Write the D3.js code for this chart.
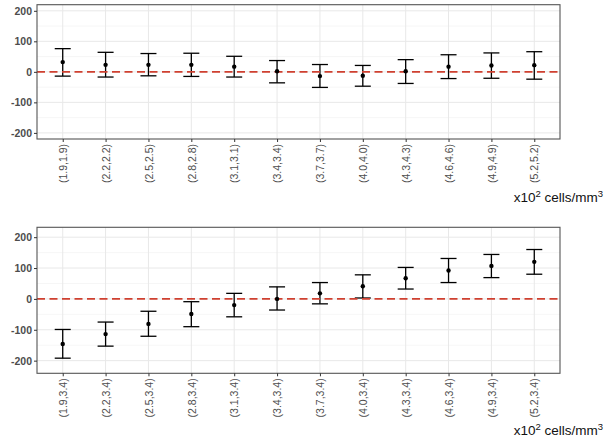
<!DOCTYPE html>
<html><head><meta charset="utf-8">
<script src="https://cdn.jsdelivr.net/npm/d3@7"></script>
<style>body{margin:0;background:#fff}svg{display:block}</style>
</head><body>
<script>
const topCats = ["(1.9,1.9)","(2.2,2.2)","(2.5,2.5)","(2.8,2.8)","(3.1,3.1)","(3.4,3.4)","(3.7,3.7)","(4.0,4.0)","(4.3,4.3)","(4.6,4.6)","(4.9,4.9)","(5.2,5.2)"];
const topMid = [32, 23, 23, 23, 17, 2, -14, -13, 2, 17, 21, 22];
const topLow = [-14, -17, -13, -15, -17, -36, -51, -47, -38, -22, -21, -24];
const topHigh = [76, 64, 60, 61, 51, 37, 24, 21, 40, 56, 62, 66];

const botCats = ["(1.9,3.4)","(2.2,3.4)","(2.5,3.4)","(2.8,3.4)","(3.1,3.4)","(3.4,3.4)","(3.7,3.4)","(4.0,3.4)","(4.3,3.4)","(4.6,3.4)","(4.9,3.4)","(5.2,3.4)"];
const botMid = [-146, -114, -81, -49, -20, 0, 18, 41, 67, 92, 107, 120];
const botLow = [-192, -153, -121, -90, -58, -36, -16, 3, 32, 53, 69, 80];
const botHigh = [-99, -75, -40, -9, 18, 39, 53, 78, 102, 131, 144, 160];

const yTicks = [-200, -100, 0, 100, 200];
const yTickLabels = ["-200", "-100", "0", "100", "200"];
const yMinor = [-250, -150, -50, 50, 150, 250];

const W = 614, H = 442;
const svg = d3.select("body").append("svg").attr("width", W).attr("height", H);
const FONT = "Liberation Sans, Arial, Helvetica, sans-serif";

function panel(cats, mid, low, high, y0, y1, domain, unitY) {
  const x0 = 37, x1 = 560;
  const x = d3.scalePoint().domain(cats).range([x0, x1]).padding(0.6);
  const y = d3.scaleLinear().domain(domain).range([y1, y0]);
  const g = svg.append("g");
  g.selectAll(".mn").data(yMinor.filter(v => v > domain[0] && v < domain[1])).enter().append("line")
    .attr("x1", x0).attr("x2", x1).attr("y1", d => y(d)).attr("y2", d => y(d))
    .attr("stroke", "#f2f2f2").attr("stroke-width", 0.7);
  g.selectAll(".mj").data(yTicks).enter().append("line")
    .attr("x1", x0).attr("x2", x1).attr("y1", d => y(d)).attr("y2", d => y(d))
    .attr("stroke", "#e8e8e8").attr("stroke-width", 1);
  g.selectAll(".vg").data(cats).enter().append("line")
    .attr("x1", d => x(d)).attr("x2", d => x(d)).attr("y1", y0).attr("y2", y1)
    .attr("stroke", "#e8e8e8").attr("stroke-width", 1);
  const capW = 8;
  cats.forEach((c, i) => {
    const cx = x(c);
    g.append("line").attr("x1", cx).attr("x2", cx).attr("y1", y(low[i])).attr("y2", y(high[i]))
      .attr("stroke", "#000").attr("stroke-width", 1.3);
    g.append("line").attr("x1", cx - capW).attr("x2", cx + capW).attr("y1", y(low[i])).attr("y2", y(low[i]))
      .attr("stroke", "#000").attr("stroke-width", 1.3);
    g.append("line").attr("x1", cx - capW).attr("x2", cx + capW).attr("y1", y(high[i])).attr("y2", y(high[i]))
      .attr("stroke", "#000").attr("stroke-width", 1.3);
  });
  g.append("line").attr("x1", x0).attr("x2", x1).attr("y1", y(0)).attr("y2", y(0))
    .attr("stroke", "#cf4030").attr("stroke-width", 1.8).attr("stroke-dasharray", "8,4.5");
  g.selectAll(".pt").data(cats).enter().append("circle")
    .attr("cx", d => x(d)).attr("cy", (d, i) => y(mid[i])).attr("r", 2.2).attr("fill", "#000");
  g.append("rect").attr("x", x0).attr("y", y0).attr("width", x1 - x0).attr("height", y1 - y0)
    .attr("fill", "none").attr("stroke", "#555").attr("stroke-width", 1.1);
  const ya = g.append("g").attr("transform", `translate(${x0},0)`)
    .call(d3.axisLeft(y).tickValues(yTicks).tickSize(3).tickPadding(2)
      .tickFormat((d, i) => yTickLabels[i]));
  ya.select(".domain").remove();
  ya.selectAll("line").attr("stroke", "#333");
  ya.selectAll("text").attr("fill", "#4d4d4d").style("font-family", FONT)
    .style("font-size", "10.5px").style("font-weight", "bold");
  const xa = g.append("g").attr("transform", `translate(0,${y1})`)
    .call(d3.axisBottom(x).tickSize(3).tickPadding(2));
  xa.select(".domain").remove();
  xa.selectAll("line").attr("stroke", "#333");
  xa.selectAll("text").attr("fill", "#4d4d4d").style("font-family", FONT)
    .style("font-size", "10.5px")
    .attr("transform", "rotate(-90)").attr("text-anchor", "end")
    .attr("x", -5).attr("y", 0).attr("dy", "0.35em");
  const t = svg.append("text").attr("x", 603).attr("y", unitY).attr("text-anchor", "end")
    .style("font-family", FONT).style("font-size", "13.5px").attr("fill", "#111");
  t.append("tspan").text("x10");
  t.append("tspan").text("2").attr("dy", -5).style("font-size", "9.5px");
  t.append("tspan").text(" cells/mm").attr("dy", 5);
  t.append("tspan").text("3").attr("dy", -5).style("font-size", "9.5px");
}

panel(topCats, topMid, topLow, topHigh, 4.7, 139, [-220, 220], 202);
panel(botCats, botMid, botLow, botHigh, 227.3, 373.3, [-241, 232], 435);
</script>
</body></html>
